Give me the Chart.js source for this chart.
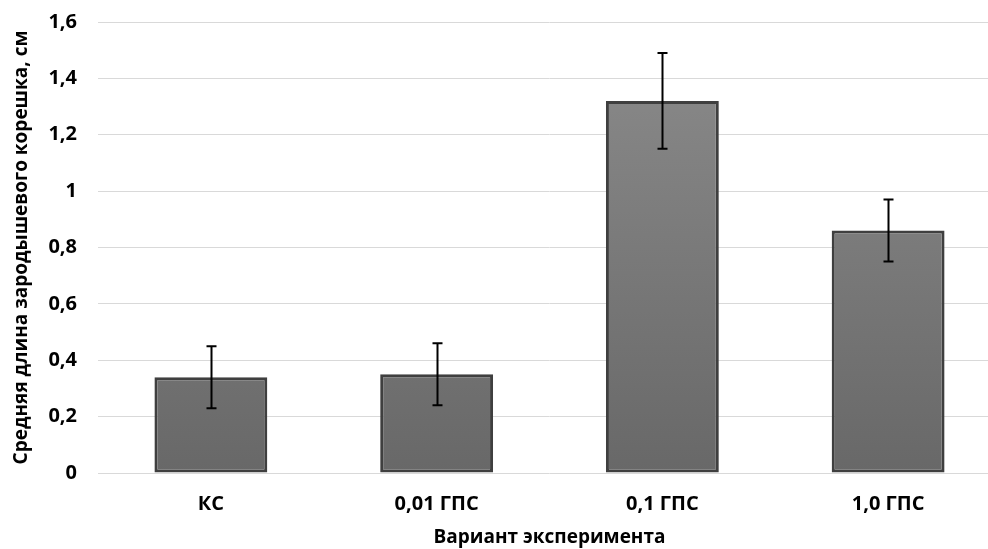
<!DOCTYPE html>
<html><head><meta charset="utf-8">
<script src="https://cdn.jsdelivr.net/npm/chart.js@4/dist/chart.umd.min.js"></script>
<style>
html,body{margin:0;padding:0;background:#fff;overflow:hidden;width:988px;height:549px;}
#wrap{width:1002px;height:549px;position:relative;}
</style></head><body>
<div id="wrap"><canvas id="c"></canvas></div>
<script>
const categories = ['КС', '0,01 ГПС', '0,1 ГПС', '1,0 ГПС'];
const means = [0.34, 0.35, 1.32, 0.86];
const errors = [0.11, 0.11, 0.17, 0.11];
const yTicks = [0, 0.2, 0.4, 0.6, 0.8, 1, 1.2, 1.4, 1.6];
const yTitle = 'Средняя длина зародышевого корешка, см';
const xTitle = 'Вариант эксперимента';

const FONT = '"Open Sans", sans-serif';

const errorBars = {
  id: 'errorBars',
  afterDatasetsDraw(chart) {
    const ctx = chart.ctx;
    const meta = chart.getDatasetMeta(0);
    const ys = chart.scales.y;
    ctx.save();
    ctx.strokeStyle = '#000';
    ctx.lineWidth = 2;
    meta.data.forEach((bar, i) => {
      const x = Math.round(bar.x) + 0.5;
      const top = ys.getPixelForValue(means[i] + errors[i]);
      const bot = ys.getPixelForValue(means[i] - errors[i]);
      ctx.beginPath();
      ctx.moveTo(x, top); ctx.lineTo(x, bot);
      ctx.moveTo(x - 5, top); ctx.lineTo(x + 5, top);
      ctx.moveTo(x - 5, bot); ctx.lineTo(x + 5, bot);
      ctx.stroke();
    });
    ctx.restore();
  }
};

new Chart(document.getElementById('c'), {
  type: 'bar',
  data: {
    labels: categories,
    datasets: [{
      data: means,
      backgroundColor: (c) => {
        const area = c.chart.chartArea;
        if (!area) return '#7a7a7a';
        const g = c.chart.ctx.createLinearGradient(0, area.top, 0, area.bottom);
        g.addColorStop(0, '#8c8c8c');
        g.addColorStop(1, '#686868');
        return g;
      },
      borderColor: '#3f3f3f',
      borderWidth: 3,
      borderSkipped: false,
      barPercentage: 0.5,
      categoryPercentage: 1.0
    }]
  },
  options: {
    responsive: true,
    maintainAspectRatio: false,
    animation: false,
    layout: { padding: { top: 22, right: 1, left: 10, bottom: 0 } },
    plugins: { legend: { display: false }, tooltip: { enabled: false } },
    scales: {
      x: {
        grid: { display: false, drawTicks: false },
        border: { display: false },
        ticks: { color: '#000', font: { family: FONT, size: 20, weight: 'bold' }, padding: 19 },
        title: { display: true, text: xTitle, color: '#000', font: { family: FONT, size: 19, weight: 'bold' }, padding: { top: 9, bottom: 0 } },
        afterFit: (s) => { s.height = 76; s.paddingLeft = 0; s.paddingRight = 0; }
      },
      y: {
        min: 0, max: 1.6,
        afterBuildTicks: (s) => { s.ticks = yTicks.map(v => ({ value: v })); },
        grid: { color: '#d9d9d9', lineWidth: 1, drawTicks: false },
        border: { display: false },
        ticks: {
          color: '#000', padding: 21,
          font: { family: FONT, size: 20, weight: 'bold' },
          callback: (v) => String(v).replace('.', ',')
        },
        title: { display: true, text: yTitle, color: '#000', font: { family: FONT, size: 19, weight: 'bold' }, padding: { top: 0, bottom: 0 } },
        afterFit: (s) => { s.width = 88; s.paddingTop = 0; s.paddingBottom = 0; }
      }
    }
  },
  plugins: [errorBars]
});
</script>
</body></html>
